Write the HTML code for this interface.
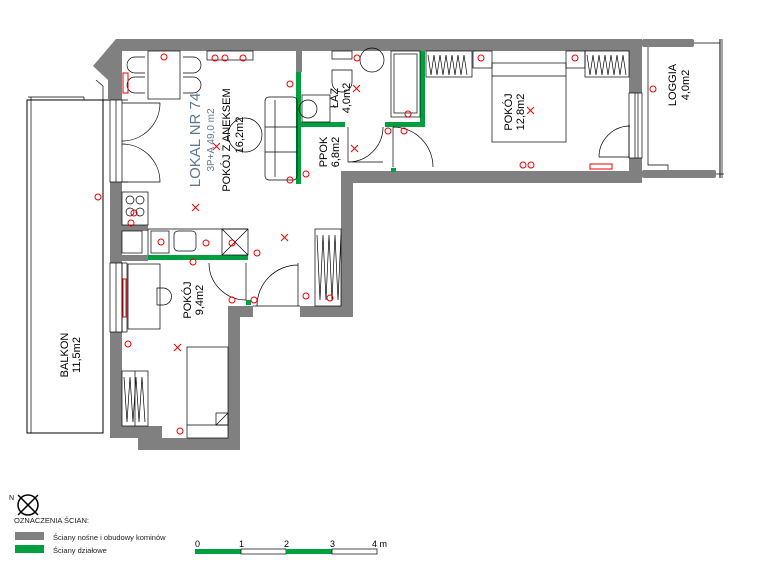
<!DOCTYPE html>
<html><head><meta charset="utf-8"><style>
html,body{margin:0;padding:0;background:#fff;width:757px;height:563px;overflow:hidden}
svg{display:block;font-family:"Liberation Sans",sans-serif}
</style></head><body>
<svg width="757" height="563" viewBox="0 0 757 563">
<!-- balcony -->
<rect x="27" y="100" width="76" height="333" fill="none" stroke="#000" stroke-width="1"/>
<line x1="31" y1="97" x2="31" y2="433" stroke="#000" stroke-width="0.7"/>
<line x1="28" y1="97" x2="84" y2="97" stroke="#000" stroke-width="0.7"/>
<line x1="103" y1="100" x2="110" y2="100" stroke="#000" stroke-width="1"/>
<path d="M84,97 v3 M96,80 L103,86 L103,100" fill="none" stroke="#000" stroke-width="0.7"/>
<!-- loggia -->
<rect x="642" y="39" width="52" height="8" rx="2" fill="#808080"/>
<rect x="642" y="170" width="74" height="8" rx="2" fill="#808080"/>
<line x1="694" y1="43" x2="720" y2="43" stroke="#000" stroke-width="0.7"/>
<line x1="716" y1="174" x2="724" y2="174" stroke="#000" stroke-width="0.7"/>
<line x1="720" y1="39" x2="720" y2="178" stroke="#000" stroke-width="1"/>
<line x1="722" y1="39" x2="722" y2="178" stroke="#000" stroke-width="0.7"/>
<polyline points="648,47 648,165 668,165 668,170" fill="none" stroke="#000" stroke-width="0.7"/>
<!-- grey walls -->
<g fill="#808080">
<polygon points="116,39 642,39 642,51 122,51 122,100 108,100 108,80 93,66"/>
<rect x="110" y="182" width="12" height="81"/>
<rect x="110" y="332" width="12" height="106"/>
<rect x="110" y="426" width="52" height="12"/>
<rect x="138" y="438" width="102" height="12"/>
<rect x="228" y="306" width="12" height="144"/>
<rect x="228" y="306" width="25" height="11"/>
<rect x="300" y="306" width="53" height="11"/>
<rect x="341" y="171" width="12" height="146"/>
<rect x="341" y="171" width="301" height="12"/>
<rect x="629" y="39" width="13" height="54"/>
<rect x="629" y="158" width="13" height="25"/>
<rect x="122" y="255" width="26" height="6"/>
<rect x="296" y="51" width="6" height="21"/>
<rect x="122" y="225" width="26" height="6"/>
</g>
<!-- green walls -->
<g fill="#00a040">
<rect x="296" y="72" width="5" height="112"/>
<rect x="301" y="122" width="44" height="5"/>
<rect x="420" y="51" width="5" height="76"/>
<rect x="385" y="122" width="40" height="5"/>
<rect x="148" y="255" width="100" height="5"/>
<rect x="246" y="300" width="5" height="5"/>
<rect x="391" y="168" width="5" height="4"/>
</g>
<!-- windows -->
<g fill="none" stroke="#000" stroke-width="0.7">
<rect x="110" y="100" width="12" height="82"/><line x1="116" y1="100" x2="116" y2="182"/><line x1="122" y1="100" x2="128" y2="100"/><line x1="122" y1="182" x2="128" y2="182"/>
<rect x="110" y="263" width="12" height="69"/><line x1="116" y1="263" x2="116" y2="332"/><rect x="122" y="263" width="5" height="69"/>
<rect x="629" y="93" width="13" height="65"/><line x1="635" y1="93" x2="635" y2="158"/><line x1="638" y1="93" x2="638" y2="158"/>
<!-- doors -->
<path d="M122,103 L160,103 A38,38 0 0 1 122,141"/>
<path d="M122,182 L160,182 A38,38 0 0 0 122,144"/>
<path d="M348,127 L348,162 L383,162 M348,162 A35,35 0 0 0 383,127"/>
<path d="M393,127 L393,167 M393,127 A40,40 0 0 1 433,167"/>
<path d="M629,125 L629,157 L599,157 M599,157 A31,31 0 0 1 630,126"/>
<path d="M246,263 L246,300 M209,263 A37,37 0 0 0 246,300"/>
<path d="M298,263 L298,306 M257,306 A41,41 0 0 1 298,265"/>
<path d="M253,306 L300,306"/>
<!-- furniture annex -->
<rect x="148" y="51" width="32" height="48"/>
<path d="M145,57 h-10 a8,8 0 0 0 0,16 h10 M145,77 h-10 a8,8 0 0 0 0,16 h10"/>
<path d="M183,57 h10 a8,8 0 0 1 0,16 h-10 M183,77 h10 a8,8 0 0 1 0,16 h-10"/>
<rect x="207" y="51" width="46" height="9"/>
<rect x="265" y="97" width="32" height="83" rx="4"/>
<line x1="265" y1="127" x2="297" y2="127"/><line x1="265" y1="152" x2="297" y2="152"/><line x1="275" y1="100" x2="275" y2="177"/>
<circle cx="245" cy="135" r="17"/>
<rect x="122" y="192" width="26" height="33"/>
<circle cx="130" cy="200" r="4"/><circle cx="140" cy="200" r="4"/><circle cx="130" cy="212" r="4"/><circle cx="140" cy="212" r="4"/>
<line x1="148" y1="229" x2="248" y2="229"/><line x1="148" y1="229" x2="148" y2="255"/>
<rect x="151" y="231" width="18" height="22"/>
<rect x="174" y="231" width="22" height="20" rx="4"/>
<rect x="222" y="229" width="26" height="26"/><line x1="222" y1="229" x2="248" y2="255"/><line x1="248" y1="229" x2="222" y2="255"/>
<rect x="122" y="231" width="20" height="22"/>
<!-- bathroom -->
<rect x="391" y="51" width="29" height="66"/><rect x="394" y="54" width="23" height="59"/>
<path d="M332,70 v12 a10,10 0 0 0 20,0 v-12 z"/><rect x="332" y="51" width="20" height="8"/>
<circle cx="372" cy="60" r="12"/>
<circle cx="308" cy="109" r="9"/><rect x="302" y="95" width="28" height="27"/>
<!-- hall wardrobe -->
<rect x="315" y="229" width="26" height="77"/>
<path d="M317,235 l3,65 l3,-65 l3,65 l3,-65 l3,65 l3,-65 l3,65 l3,-65"/>
<!-- bedroom -->
<rect x="492" y="63" width="74" height="79"/><line x1="492" y1="76" x2="566" y2="76"/>
<rect x="426" y="51" width="46" height="26"/><path d="M428,55 l3,20 l3,-20 l3,20 l3,-20 l3,20 l3,-20 l3,20 l3,-20 l3,20 l3,-20 l3,20 l3,-20 l3,20"/>
<rect x="585" y="51" width="44" height="26"/><path d="M587,55 l3,20 l3,-20 l3,20 l3,-20 l3,20 l3,-20 l3,20 l3,-20 l3,20 l3,-20 l3,20 l3,-20 l3,20"/>
<rect x="473" y="51" width="19" height="17"/><rect x="566" y="51" width="19" height="17"/>
<!-- room 9.4 -->
<rect x="128" y="264" width="32" height="65"/>
<path d="M157,288 h6 a8,8 0 0 1 0,17 h-6 z"/>
<rect x="187" y="347" width="41" height="91"/><line x1="187" y1="425" x2="228" y2="425"/><line x1="216" y1="425" x2="228" y2="413"/><rect x="216" y="413" width="12" height="12"/>
<rect x="122" y="371" width="26" height="55"/><line x1="135" y1="371" x2="135" y2="426"/>
<path d="M124,377 l3,45 l3,-45 l3,45 l3,-45 l3,45 l3,-45 l3,45"/>
</g>
<!-- red symbols -->
<g stroke="#e00" stroke-width="1" fill="none">
<path d="M192,204 l7,7 m0,-7 l-7,7 M281,234 l7,7 m0,-7 l-7,7 M213,143 l7,7 m0,-7 l-7,7 M353,85 l7,7 m0,-7 l-7,7 M351,145 l7,7 m0,-7 l-7,7 M527,107 l7,7 m0,-7 l-7,7 M174,344 l7,7 m0,-7 l-7,7"/>
<rect x="123" y="73" width="5" height="20"/><rect x="123" y="279" width="3" height="38"/>
<rect x="590" y="164" width="22" height="5"/>
<circle cx="164" cy="57" r="3"/><circle cx="215" cy="58" r="3"/><circle cx="225" cy="58" r="3"/><circle cx="243" cy="58" r="3"/>
<circle cx="98" cy="197" r="3"/><circle cx="134" cy="213" r="3"/><circle cx="131" cy="223" r="3"/><circle cx="161" cy="242" r="3"/><circle cx="206" cy="243" r="3"/><circle cx="232" cy="243" r="3"/><circle cx="257" cy="253" r="3"/><circle cx="193" cy="262" r="3"/>
<circle cx="290" cy="84" r="3"/><circle cx="290" cy="180" r="3"/><circle cx="306" cy="174" r="3"/><circle cx="357" cy="58" r="3"/>
<circle cx="388" cy="131" r="3"/><circle cx="404" cy="131" r="3"/><circle cx="408" cy="114" r="3"/><circle cx="481" cy="58" r="3"/><circle cx="575" cy="58" r="3"/>
<circle cx="523" cy="165" r="3"/><circle cx="531" cy="165" r="3"/><circle cx="653" cy="89" r="3"/>
<circle cx="232" cy="300" r="3"/><circle cx="254" cy="300" r="3"/><circle cx="306" cy="296" r="3"/><circle cx="330" cy="298" r="3"/>
<circle cx="128" cy="344" r="3"/><circle cx="180" cy="431" r="3"/>
</g>
<!-- labels -->
<g font-size="11" fill="#000">
<text transform="translate(200,140) rotate(-90)" text-anchor="middle" font-size="15" fill="#607890">LOKAL NR 74</text>
<text transform="translate(214,140) rotate(-90)" text-anchor="middle" font-size="10" fill="#607890">3P+A  49,0 m2</text>
<text transform="translate(230,140) rotate(-90)" text-anchor="middle">POKÓJ Z ANEKSEM</text>
<text transform="translate(243,135) rotate(-90)" text-anchor="middle">16,2m2</text>
<text transform="translate(338,98) rotate(-90)" text-anchor="middle">ŁAZ</text>
<text transform="translate(350,98) rotate(-90)" text-anchor="middle">4,0m2</text>
<text transform="translate(327,152) rotate(-90)" text-anchor="middle">PPOK</text>
<text transform="translate(339,152) rotate(-90)" text-anchor="middle">6,8m2</text>
<text transform="translate(512,112) rotate(-90)" text-anchor="middle">POKÓJ</text>
<text transform="translate(524,112) rotate(-90)" text-anchor="middle">12,8m2</text>
<text transform="translate(676,85) rotate(-90)" text-anchor="middle">LOGGIA</text>
<text transform="translate(689,85) rotate(-90)" text-anchor="middle">4,0m2</text>
<text transform="translate(191,300) rotate(-90)" text-anchor="middle">POKÓJ</text>
<text transform="translate(203,300) rotate(-90)" text-anchor="middle">9,4m2</text>
<text transform="translate(68,355) rotate(-90)" text-anchor="middle">BALKON</text>
<text transform="translate(80,355) rotate(-90)" text-anchor="middle">11,5m2</text>
</g>
<!-- legend -->
<g stroke="#000" stroke-width="1.5" fill="none">
<circle cx="28" cy="505" r="10"/><line x1="18" y1="495" x2="38" y2="515"/><line x1="38" y1="495" x2="18" y2="515"/>
</g>
<text x="9" y="500" font-size="7">N</text>
<text x="14" y="523" font-size="7.5" fill="#222">OZNACZENIA ŚCIAN:</text>
<rect x="15" y="532" width="29" height="8" fill="#808080"/>
<text x="53" y="540" font-size="7.5" fill="#222">Ściany nośne i obudowy kominów</text>
<rect x="15" y="545" width="29" height="8" fill="#00a040"/>
<text x="53" y="553" font-size="7.5" fill="#222">Ściany działowe</text>
<rect x="195" y="549" width="46" height="5" fill="#00a040"/>
<rect x="241" y="549" width="45" height="5" fill="#fff" stroke="#000" stroke-width="0.7"/>
<rect x="286" y="549" width="46" height="5" fill="#00a040"/>
<rect x="332" y="549" width="45" height="5" fill="#fff" stroke="#000" stroke-width="0.7"/>
<g font-size="9"><text x="195" y="547">0</text><text x="239" y="547">1</text><text x="284" y="547">2</text><text x="330" y="547">3</text><text x="372" y="547">4 m</text></g>
</svg>
</body></html>
